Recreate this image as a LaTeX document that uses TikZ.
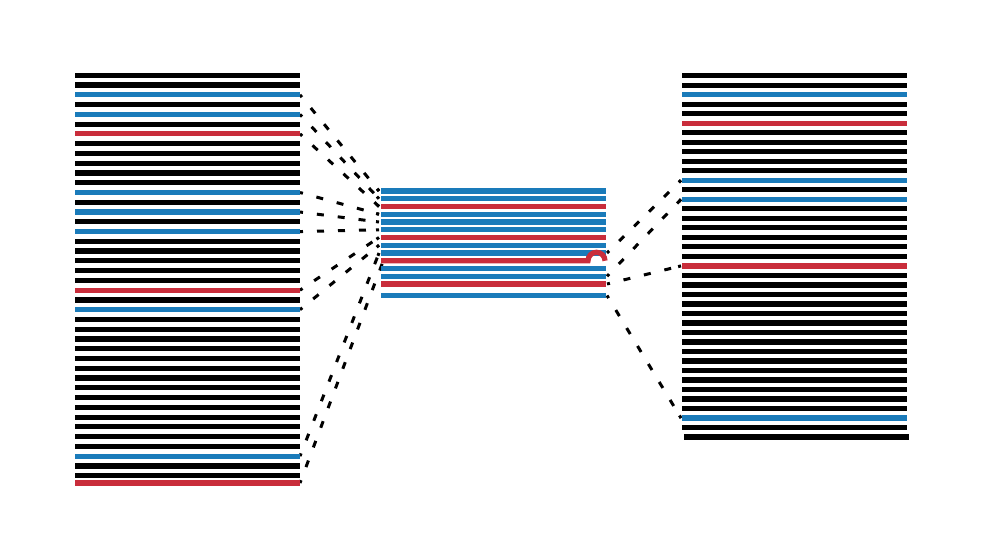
\documentclass[tikz,border=0pt]{standalone}
\usetikzlibrary{calc}
\definecolor{barblue}{HTML}{1A7BBA}
\definecolor{barred}{HTML}{C92D3B}
\newcommand\linkit[2]{\draw[link] (#1) -- (#2); \draw[linkcap] (#2) -- ($(#2)!3pt!(#1)$);}
\begin{document}
\begin{tikzpicture}[x=1pt,y=-1pt,
  bar/.style={line width=5.2pt},
  blackbar/.style={bar,black},
  bluebar/.style={bar,barblue},
  redbar/.style={bar,barred},
  link/.style={line width=3pt,black,dash pattern=on 7pt off 14pt,dash phase=4pt},
  linkcap/.style={line width=3pt,black}]
\useasboundingbox (0,0) rectangle (984,557);
% ---------- coordinates ----------
% left block
\foreach \i in {0,...,41}{
  \coordinate (Lw\i) at (75,{75.3+9.766*\i});
  \coordinate (Le\i) at (300,{75.3+9.766*\i});
}
\coordinate (Lw42) at (75,483);
\coordinate (Le42) at (300,483);
% right block
\foreach \j in {0,...,37}{
  \coordinate (Rw\j) at (682,{75.7+9.51*\j});
  \coordinate (Re\j) at (907,{75.7+9.51*\j});
  \coordinate (Ri\j) at (681,{75.7+9.51*\j});
}
\coordinate (Rw38) at (684,437);
\coordinate (Re38) at (909,437);
% middle block
\foreach \k/\yy in {0/191,1/198.75,2/206.5,3/214.25,4/222,5/229.75,6/237.5,7/245.25,8/253,9/260.75,10/268.5,11/276.25,12/284,13/295.5}{
  \coordinate (Mw\k) at (381,\yy);
  \coordinate (Me\k) at (606,\yy);
  \coordinate (Mi\k) at (379,\yy);
  \coordinate (Mo\k) at (607,\yy);
}
\coordinate (Mx9) at (383,261.5);
\coordinate (Mh9) at (588,260.75);
% ---------- connectors ----------
\linkit{Le2}{Mi0}
\linkit{Le4}{Mi1}
\linkit{Le6}{Mi2}
\linkit{Le12}{Mi3}
\linkit{Le14}{Mi4}
\linkit{Le16}{Mi5}
\linkit{Le22}{Mi6}
\linkit{Le24}{Mi7}
\linkit{Le39}{Mi8}
\draw[link] (Le42) -- (Mx9);
\linkit{Mo8}{Ri11}
\linkit{Mo11}{Ri13}
\linkit{Mo12}{Ri20}
\linkit{Mo13}{Ri36}
% ---------- left bars ----------
\foreach \i in {0,1,3,5,7,8,9,10,11,13,15,17,18,19,20,21,23,25,26,...,38,40,41}
  \draw[blackbar] (Lw\i) -- (Le\i);
\foreach \i in {2,4,12,14,16,24,39}
  \draw[bluebar] (Lw\i) -- (Le\i);
\foreach \i in {6,22,42}
  \draw[redbar] (Lw\i) -- (Le\i);
% ---------- right bars ----------
\foreach \j in {0,1,3,4,6,7,8,9,10,12,14,15,...,19,21,22,...,35,37,38}
  \draw[blackbar] (Rw\j) -- (Re\j);
\foreach \j in {2,11,13,36}
  \draw[bluebar] (Rw\j) -- (Re\j);
\foreach \j in {5,20}
  \draw[redbar] (Rw\j) -- (Re\j);
% ---------- middle bars ----------
\foreach \k in {0,1,3,4,5,7,8,10,11,13}
  \draw[bluebar] (Mw\k) -- (Me\k);
\foreach \k in {2,6,12}
  \draw[redbar] (Mw\k) -- (Me\k);
\draw[redbar] (Mw9) -- (Mh9) arc[start angle=180,end angle=0,radius=8.5pt];
\end{tikzpicture}
\end{document}
